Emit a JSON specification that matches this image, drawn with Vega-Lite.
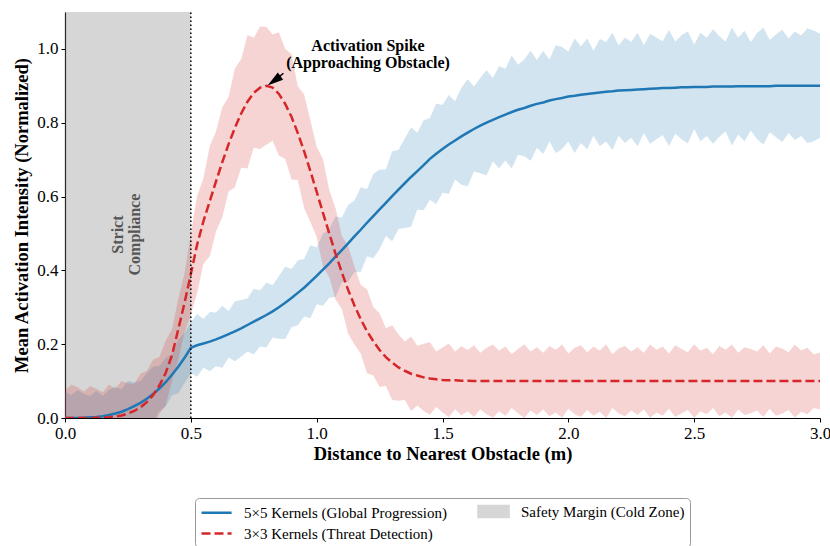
{
  "$schema": "https://vega.github.io/schema/vega-lite/v6.json",
  "autosize": "none",
  "width": 755,
  "height": 406,
  "padding": {"left": 65, "top": 12, "right": 10, "bottom": 128},
  "config": {
    "font": "Liberation Serif, Times New Roman, Times, serif",
    "view": {"stroke": null},
    "axis": {
      "labelFont": "Liberation Serif, Times New Roman, Times, serif", "labelFontSize": 17, "labelColor": "#000",
      "titleFont": "Liberation Serif, Times New Roman, Times, serif", "titleFontSize": 18.5, "titleFontWeight": "bold", "titleColor": "#000",
      "domainColor": "#000", "domainWidth": 1.2, "tickColor": "#000", "tickWidth": 1, "tickSize": 4,
      "gridColor": "#c8c8c8", "gridDash": [4, 3], "gridWidth": 0.8, "labelPadding": 3, "labelFlush": false
    }
  },
  "data": {"values": [
    {"x":0.000,"b":0.000,"bl":-0.072,"bh":0.072,"r":0.000,"rl":-0.075,"rh":0.075},
    {"x":0.025,"b":0.000,"bl":-0.062,"bh":0.062,"r":0.000,"rl":-0.090,"rh":0.090},
    {"x":0.050,"b":0.000,"bl":-0.075,"bh":0.075,"r":0.000,"rl":-0.083,"rh":0.083},
    {"x":0.075,"b":0.001,"bl":-0.064,"bh":0.066,"r":0.000,"rl":-0.072,"rh":0.072},
    {"x":0.100,"b":0.002,"bl":-0.055,"bh":0.059,"r":0.000,"rl":-0.086,"rh":0.086},
    {"x":0.125,"b":0.003,"bl":-0.067,"bh":0.073,"r":0.001,"rl":-0.077,"rh":0.079},
    {"x":0.150,"b":0.005,"bl":-0.050,"bh":0.060,"r":0.001,"rl":-0.068,"rh":0.070},
    {"x":0.175,"b":0.008,"bl":-0.060,"bh":0.076,"r":0.002,"rl":-0.086,"rh":0.090},
    {"x":0.200,"b":0.012,"bl":-0.061,"bh":0.085,"r":0.004,"rl":-0.071,"rh":0.079},
    {"x":0.225,"b":0.017,"bl":-0.043,"bh":0.077,"r":0.007,"rl":-0.086,"rh":0.100},
    {"x":0.250,"b":0.024,"bl":-0.053,"bh":0.101,"r":0.012,"rl":-0.070,"rh":0.094},
    {"x":0.275,"b":0.032,"bl":-0.032,"bh":0.096,"r":0.019,"rl":-0.055,"rh":0.093},
    {"x":0.300,"b":0.041,"bl":-0.018,"bh":0.100,"r":0.029,"rl":-0.062,"rh":0.120},
    {"x":0.325,"b":0.052,"bl":-0.017,"bh":0.121,"r":0.043,"rl":-0.042,"rh":0.128},
    {"x":0.350,"b":0.065,"bl":-0.009,"bh":0.139,"r":0.062,"rl":-0.034,"rh":0.158},
    {"x":0.375,"b":0.080,"bl":0.019,"bh":0.141,"r":0.088,"rl":0.011,"rh":0.165},
    {"x":0.400,"b":0.097,"bl":0.031,"bh":0.163,"r":0.122,"rl":0.034,"rh":0.210},
    {"x":0.425,"b":0.117,"bl":0.061,"bh":0.173,"r":0.170,"rl":0.100,"rh":0.240},
    {"x":0.450,"b":0.139,"bl":0.067,"bh":0.211,"r":0.240,"rl":0.157,"rh":0.323},
    {"x":0.475,"b":0.163,"bl":0.095,"bh":0.231,"r":0.312,"rl":0.232,"rh":0.392},
    {"x":0.500,"b":0.190,"bl":0.121,"bh":0.259,"r":0.390,"rl":0.280,"rh":0.500},
    {"x":0.525,"b":0.197,"bl":0.112,"bh":0.282,"r":0.470,"rl":0.338,"rh":0.602},
    {"x":0.550,"b":0.202,"bl":0.136,"bh":0.268,"r":0.533,"rl":0.417,"rh":0.649},
    {"x":0.575,"b":0.207,"bl":0.127,"bh":0.287,"r":0.587,"rl":0.438,"rh":0.736},
    {"x":0.600,"b":0.213,"bl":0.140,"bh":0.286,"r":0.641,"rl":0.505,"rh":0.777},
    {"x":0.625,"b":0.220,"bl":0.136,"bh":0.304,"r":0.693,"rl":0.544,"rh":0.842},
    {"x":0.650,"b":0.227,"bl":0.164,"bh":0.290,"r":0.742,"rl":0.614,"rh":0.870},
    {"x":0.675,"b":0.235,"bl":0.154,"bh":0.316,"r":0.786,"rl":0.625,"rh":0.947},
    {"x":0.700,"b":0.243,"bl":0.166,"bh":0.320,"r":0.825,"rl":0.678,"rh":0.972},
    {"x":0.725,"b":0.252,"bl":0.180,"bh":0.324,"r":0.857,"rl":0.676,"rh":1.038},
    {"x":0.750,"b":0.261,"bl":0.172,"bh":0.350,"r":0.881,"rl":0.732,"rh":1.030},
    {"x":0.775,"b":0.270,"bl":0.194,"bh":0.346,"r":0.895,"rl":0.729,"rh":1.061},
    {"x":0.800,"b":0.279,"bl":0.191,"bh":0.367,"r":0.900,"rl":0.740,"rh":1.060},
    {"x":0.825,"b":0.289,"bl":0.218,"bh":0.360,"r":0.895,"rl":0.751,"rh":1.039},
    {"x":0.850,"b":0.300,"bl":0.215,"bh":0.385,"r":0.878,"rl":0.711,"rh":1.045},
    {"x":0.875,"b":0.312,"bl":0.214,"bh":0.410,"r":0.851,"rl":0.702,"rh":1.000},
    {"x":0.900,"b":0.325,"bl":0.246,"bh":0.404,"r":0.816,"rl":0.646,"rh":0.986},
    {"x":0.925,"b":0.339,"bl":0.251,"bh":0.427,"r":0.772,"rl":0.645,"rh":0.899},
    {"x":0.950,"b":0.353,"bl":0.275,"bh":0.431,"r":0.723,"rl":0.569,"rh":0.877},
    {"x":0.975,"b":0.369,"bl":0.270,"bh":0.468,"r":0.669,"rl":0.531,"rh":0.807},
    {"x":1.000,"b":0.385,"bl":0.308,"bh":0.462,"r":0.613,"rl":0.491,"rh":0.735},
    {"x":1.025,"b":0.402,"bl":0.304,"bh":0.500,"r":0.556,"rl":0.410,"rh":0.702},
    {"x":1.050,"b":0.419,"bl":0.326,"bh":0.512,"r":0.500,"rl":0.382,"rh":0.618},
    {"x":1.075,"b":0.437,"bl":0.328,"bh":0.546,"r":0.445,"rl":0.321,"rh":0.569},
    {"x":1.100,"b":0.455,"bl":0.367,"bh":0.543,"r":0.394,"rl":0.295,"rh":0.493},
    {"x":1.125,"b":0.473,"bl":0.369,"bh":0.577,"r":0.347,"rl":0.228,"rh":0.466},
    {"x":1.150,"b":0.492,"bl":0.395,"bh":0.589,"r":0.305,"rl":0.199,"rh":0.411},
    {"x":1.175,"b":0.510,"bl":0.395,"bh":0.625,"r":0.268,"rl":0.175,"rh":0.361},
    {"x":1.200,"b":0.529,"bl":0.438,"bh":0.620,"r":0.235,"rl":0.121,"rh":0.349},
    {"x":1.225,"b":0.547,"bl":0.433,"bh":0.661,"r":0.208,"rl":0.115,"rh":0.301},
    {"x":1.250,"b":0.565,"bl":0.457,"bh":0.673,"r":0.184,"rl":0.084,"rh":0.284},
    {"x":1.275,"b":0.583,"bl":0.493,"bh":0.673,"r":0.165,"rl":0.087,"rh":0.243},
    {"x":1.300,"b":0.601,"bl":0.479,"bh":0.723,"r":0.150,"rl":0.049,"rh":0.251},
    {"x":1.325,"b":0.619,"bl":0.512,"bh":0.726,"r":0.137,"rl":0.047,"rh":0.227},
    {"x":1.350,"b":0.636,"bl":0.515,"bh":0.757,"r":0.128,"rl":0.049,"rh":0.207},
    {"x":1.375,"b":0.653,"bl":0.518,"bh":0.788,"r":0.120,"rl":0.019,"rh":0.221},
    {"x":1.400,"b":0.669,"bl":0.565,"bh":0.773,"r":0.115,"rl":0.034,"rh":0.196},
    {"x":1.425,"b":0.685,"bl":0.563,"bh":0.807,"r":0.110,"rl":0.019,"rh":0.201},
    {"x":1.450,"b":0.702,"bl":0.591,"bh":0.813,"r":0.107,"rl":0.009,"rh":0.205},
    {"x":1.475,"b":0.716,"bl":0.580,"bh":0.852,"r":0.105,"rl":0.030,"rh":0.180},
    {"x":1.500,"b":0.729,"bl":0.610,"bh":0.848,"r":0.103,"rl":0.015,"rh":0.191},
    {"x":1.525,"b":0.741,"bl":0.607,"bh":0.875,"r":0.102,"rl":0.002,"rh":0.202},
    {"x":1.550,"b":0.752,"bl":0.646,"bh":0.858,"r":0.102,"rl":0.024,"rh":0.180},
    {"x":1.575,"b":0.763,"bl":0.632,"bh":0.894,"r":0.101,"rl":0.007,"rh":0.195},
    {"x":1.600,"b":0.773,"bl":0.628,"bh":0.918,"r":0.101,"rl":0.018,"rh":0.184},
    {"x":1.625,"b":0.783,"bl":0.668,"bh":0.898,"r":0.100,"rl":0.003,"rh":0.197},
    {"x":1.650,"b":0.792,"bl":0.663,"bh":0.921,"r":0.100,"rl":0.023,"rh":0.177},
    {"x":1.675,"b":0.800,"bl":0.658,"bh":0.942,"r":0.100,"rl":0.010,"rh":0.190},
    {"x":1.700,"b":0.808,"bl":0.695,"bh":0.921,"r":0.100,"rl":0.001,"rh":0.199},
    {"x":1.725,"b":0.815,"bl":0.677,"bh":0.953,"r":0.100,"rl":0.018,"rh":0.182},
    {"x":1.750,"b":0.822,"bl":0.698,"bh":0.946,"r":0.100,"rl":0.006,"rh":0.194},
    {"x":1.775,"b":0.829,"bl":0.676,"bh":0.982,"r":0.100,"rl":0.027,"rh":0.173},
    {"x":1.800,"b":0.835,"bl":0.713,"bh":0.957,"r":0.100,"rl":0.013,"rh":0.187},
    {"x":1.825,"b":0.840,"bl":0.709,"bh":0.971,"r":0.100,"rl":0.000,"rh":0.200},
    {"x":1.850,"b":0.846,"bl":0.697,"bh":0.995,"r":0.100,"rl":0.020,"rh":0.180},
    {"x":1.875,"b":0.851,"bl":0.732,"bh":0.970,"r":0.100,"rl":0.008,"rh":0.192},
    {"x":1.900,"b":0.855,"bl":0.715,"bh":0.995,"r":0.100,"rl":0.023,"rh":0.177},
    {"x":1.925,"b":0.860,"bl":0.749,"bh":0.971,"r":0.100,"rl":0.005,"rh":0.195},
    {"x":1.950,"b":0.864,"bl":0.718,"bh":1.010,"r":0.100,"rl":0.015,"rh":0.185},
    {"x":1.975,"b":0.867,"bl":0.729,"bh":1.005,"r":0.100,"rl":0.001,"rh":0.199},
    {"x":2.000,"b":0.871,"bl":0.749,"bh":0.993,"r":0.100,"rl":0.025,"rh":0.175},
    {"x":2.025,"b":0.873,"bl":0.718,"bh":1.028,"r":0.100,"rl":0.010,"rh":0.190},
    {"x":2.050,"b":0.876,"bl":0.745,"bh":1.007,"r":0.100,"rl":0.003,"rh":0.197},
    {"x":2.075,"b":0.878,"bl":0.728,"bh":1.028,"r":0.100,"rl":0.022,"rh":0.178},
    {"x":2.100,"b":0.880,"bl":0.765,"bh":0.995,"r":0.100,"rl":0.006,"rh":0.194},
    {"x":2.125,"b":0.882,"bl":0.737,"bh":1.027,"r":0.100,"rl":0.017,"rh":0.183},
    {"x":2.150,"b":0.884,"bl":0.749,"bh":1.019,"r":0.100,"rl":0.000,"rh":0.200},
    {"x":2.175,"b":0.885,"bl":0.726,"bh":1.044,"r":0.100,"rl":0.027,"rh":0.173},
    {"x":2.200,"b":0.887,"bl":0.765,"bh":1.009,"r":0.100,"rl":0.012,"rh":0.188},
    {"x":2.225,"b":0.888,"bl":0.745,"bh":1.031,"r":0.100,"rl":0.005,"rh":0.195},
    {"x":2.250,"b":0.889,"bl":0.759,"bh":1.019,"r":0.100,"rl":0.020,"rh":0.180},
    {"x":2.275,"b":0.890,"bl":0.736,"bh":1.044,"r":0.100,"rl":0.008,"rh":0.192},
    {"x":2.300,"b":0.891,"bl":0.772,"bh":1.010,"r":0.100,"rl":0.023,"rh":0.177},
    {"x":2.325,"b":0.892,"bl":0.743,"bh":1.041,"r":0.100,"rl":0.001,"rh":0.199},
    {"x":2.350,"b":0.893,"bl":0.755,"bh":1.031,"r":0.100,"rl":0.015,"rh":0.185},
    {"x":2.375,"b":0.894,"bl":0.767,"bh":1.021,"r":0.100,"rl":0.006,"rh":0.194},
    {"x":2.400,"b":0.894,"bl":0.737,"bh":1.051,"r":0.100,"rl":0.025,"rh":0.175},
    {"x":2.425,"b":0.895,"bl":0.770,"bh":1.020,"r":0.100,"rl":0.003,"rh":0.197},
    {"x":2.450,"b":0.896,"bl":0.755,"bh":1.037,"r":0.100,"rl":0.013,"rh":0.187},
    {"x":2.475,"b":0.896,"bl":0.744,"bh":1.048,"r":0.100,"rl":0.022,"rh":0.178},
    {"x":2.500,"b":0.897,"bl":0.783,"bh":1.011,"r":0.100,"rl":0.000,"rh":0.200},
    {"x":2.525,"b":0.897,"bl":0.750,"bh":1.044,"r":0.100,"rl":0.018,"rh":0.182},
    {"x":2.550,"b":0.897,"bl":0.764,"bh":1.030,"r":0.100,"rl":0.010,"rh":0.190},
    {"x":2.575,"b":0.898,"bl":0.743,"bh":1.053,"r":0.100,"rl":0.027,"rh":0.173},
    {"x":2.600,"b":0.898,"bl":0.762,"bh":1.034,"r":0.100,"rl":0.005,"rh":0.195},
    {"x":2.625,"b":0.898,"bl":0.776,"bh":1.020,"r":0.100,"rl":0.015,"rh":0.185},
    {"x":2.650,"b":0.898,"bl":0.738,"bh":1.058,"r":0.100,"rl":0.001,"rh":0.199},
    {"x":2.675,"b":0.899,"bl":0.768,"bh":1.030,"r":0.100,"rl":0.023,"rh":0.177},
    {"x":2.700,"b":0.899,"bl":0.749,"bh":1.049,"r":0.100,"rl":0.008,"rh":0.192},
    {"x":2.725,"b":0.899,"bl":0.779,"bh":1.019,"r":0.100,"rl":0.013,"rh":0.187},
    {"x":2.750,"b":0.899,"bl":0.755,"bh":1.043,"r":0.100,"rl":0.020,"rh":0.180},
    {"x":2.775,"b":0.899,"bl":0.741,"bh":1.057,"r":0.100,"rl":0.003,"rh":0.197},
    {"x":2.800,"b":0.899,"bl":0.774,"bh":1.024,"r":0.100,"rl":0.025,"rh":0.175},
    {"x":2.825,"b":0.900,"bl":0.761,"bh":1.039,"r":0.100,"rl":0.006,"rh":0.194},
    {"x":2.850,"b":0.900,"bl":0.748,"bh":1.052,"r":0.100,"rl":0.012,"rh":0.188},
    {"x":2.875,"b":0.900,"bl":0.772,"bh":1.028,"r":0.100,"rl":0.022,"rh":0.178},
    {"x":2.900,"b":0.900,"bl":0.753,"bh":1.047,"r":0.100,"rl":0.001,"rh":0.199},
    {"x":2.925,"b":0.900,"bl":0.764,"bh":1.036,"r":0.100,"rl":0.017,"rh":0.183},
    {"x":2.950,"b":0.900,"bl":0.745,"bh":1.055,"r":0.100,"rl":0.010,"rh":0.190},
    {"x":2.975,"b":0.900,"bl":0.750,"bh":1.050,"r":0.100,"rl":0.027,"rh":0.173},
    {"x":3.000,"b":0.900,"bl":0.759,"bh":1.041,"r":0.100,"rl":0.023,"rh":0.177}
  ]},
  "layer": [
    {
      "data": {"values": [{"zone": "safety"}]},
      "mark": {"type": "rect", "color": "#808080", "opacity": 0.32},
      "encoding": {
        "x": {"datum": 0, "type": "quantitative", "scale": {"domain": [0, 3], "nice": false, "zero": false},
          "axis": {"title": "Distance to Nearest Obstacle (m)", "values": [0, 0.5, 1, 1.5, 2, 2.5, 3], "format": ".1f", "titlePadding": 3}},
        "x2": {"datum": 0.5},
        "y": {"datum": 0, "type": "quantitative", "scale": {"domain": [0, 1.1], "nice": false},
          "axis": {"title": "Mean Activation Intensity (Normalized)", "values": [0, 0.2, 0.4, 0.6, 0.8, 1.0], "format": ".1f", "titlePadding": 5}},
        "y2": {"datum": 1.1}
      }
    },
    {
      "mark": {"type": "area", "clip": true, "fillOpacity": 0.2, "strokeOpacity": 0.2, "strokeWidth": 1},
      "encoding": {
        "x": {"field": "x", "type": "quantitative"},
        "y": {"field": "bl", "type": "quantitative"},
        "y2": {"field": "bh"},
        "color": {"datum": "5×5 Kernels (Global Progression)", "type": "nominal",
          "scale": {"domain": ["5×5 Kernels (Global Progression)", "Safety Margin (Cold Zone)", "3×3 Kernels (Threat Detection)"], "range": ["#1f77b4", "#d6d6d6", "#d62728"]},
          "legend": {
            "title": null, "orient": "none", "legendX": 130, "legendY": 486, "columns": 2, "direction": "horizontal",
            "labelFont": "Liberation Serif, Times New Roman, Times, serif", "labelFontSize": 15, "labelColor": "#000", "labelLimit": 400, "labelOffset": 27,
            "symbolSize": 196, "symbolStrokeWidth": 2.5, "columnPadding": 25, "rowPadding": 3,
            "strokeColor": "#999", "fillColor": "#fff", "padding": 5, "cornerRadius": 4,
            "encode": {"symbols": {"update": {
              "shape": {"signal": "datum.value === 'Safety Margin (Cold Zone)' ? 'M-1,-0.78H3.3V0.78H-1Z' : 'M-1,0H3.3'"},
              "strokeDash": {"signal": "datum.value === '3×3 Kernels (Threat Detection)' ? [9, 4] : [1, 0]"},
              "fill": {"signal": "datum.value === 'Safety Margin (Cold Zone)' ? '#d6d6d6' : 'transparent'"},
              "stroke": {"signal": "datum.value === 'Safety Margin (Cold Zone)' ? 'transparent' : (datum.value === '3×3 Kernels (Threat Detection)' ? '#d62728' : '#1f77b4')"},
              "strokeWidth": {"value": 2.5},
              "opacity": {"value": 1}
            }}}
          }}
      }
    },
    {
      "mark": {"type": "area", "clip": true, "fillOpacity": 0.2, "strokeOpacity": 0.2, "strokeWidth": 1},
      "encoding": {
        "x": {"field": "x", "type": "quantitative"},
        "y": {"field": "rl", "type": "quantitative"},
        "y2": {"field": "rh"},
        "color": {"datum": "3×3 Kernels (Threat Detection)", "type": "nominal"}
      }
    },
    {
      "mark": {"type": "line", "strokeWidth": 2.5, "clip": true},
      "encoding": {
        "x": {"field": "x", "type": "quantitative"},
        "y": {"field": "b", "type": "quantitative"},
        "color": {"datum": "5×5 Kernels (Global Progression)", "type": "nominal"}
      }
    },
    {
      "mark": {"type": "line", "strokeWidth": 2.5, "strokeDash": [9, 4], "clip": true},
      "encoding": {
        "x": {"field": "x", "type": "quantitative"},
        "y": {"field": "r", "type": "quantitative"},
        "color": {"datum": "3×3 Kernels (Threat Detection)", "type": "nominal"}
      }
    },
    {
      "data": {"values": [{"zone": "boundary"}]},
      "mark": {"type": "rule", "color": "#000", "strokeWidth": 1.5, "strokeDash": [1.5, 2.5]},
      "encoding": {"x": {"datum": 0.5, "type": "quantitative"}, "y": {"datum": 0, "type": "quantitative"}, "y2": {"datum": 1.1}}
    },
    {
      "data": {"values": [{"label": "zone"}]},
      "mark": {"type": "text", "text": ["Strict", "Compliance"], "angle": 270, "align": "center", "baseline": "middle", "font": "Liberation Serif, Times New Roman, Times, serif", "fontSize": 16, "fontWeight": "bold", "color": "#555", "lineHeight": 17},
      "encoding": {"x": {"datum": 0.211, "type": "quantitative"}, "y": {"datum": 0.497, "type": "quantitative"}}
    },
    {
      "data": {"values": [{"label": "spike"}]},
      "mark": {"type": "text", "text": ["Activation Spike", "(Approaching Obstacle)"], "align": "center", "baseline": "middle", "font": "Liberation Serif, Times New Roman, Times, serif", "fontSize": 16, "fontWeight": "bold", "color": "#000", "lineHeight": 17.3},
      "encoding": {"x": {"datum": 1.204, "type": "quantitative"}, "y": {"datum": 1.008, "type": "quantitative"}}
    },
    {
      "data": {"values": [{"label": "arrow"}]},
      "mark": {"type": "rule", "color": "#000", "strokeWidth": 1.5},
      "encoding": {"x": {"datum": 0.837, "type": "quantitative"}, "y": {"datum": 0.917, "type": "quantitative"}, "x2": {"datum": 0.868}, "y2": {"datum": 0.934}}
    },
    {
      "data": {"values": [{"label": "arrowhead"}]},
      "mark": {"type": "point", "shape": "M0,-1L0.45,0.6L-0.45,0.6Z", "filled": true, "color": "#000", "opacity": 1, "size": 400, "angle": 234},
      "encoding": {"x": {"datum": 0.837, "type": "quantitative"}, "y": {"datum": 0.917, "type": "quantitative"}}
    }
  ]
}
